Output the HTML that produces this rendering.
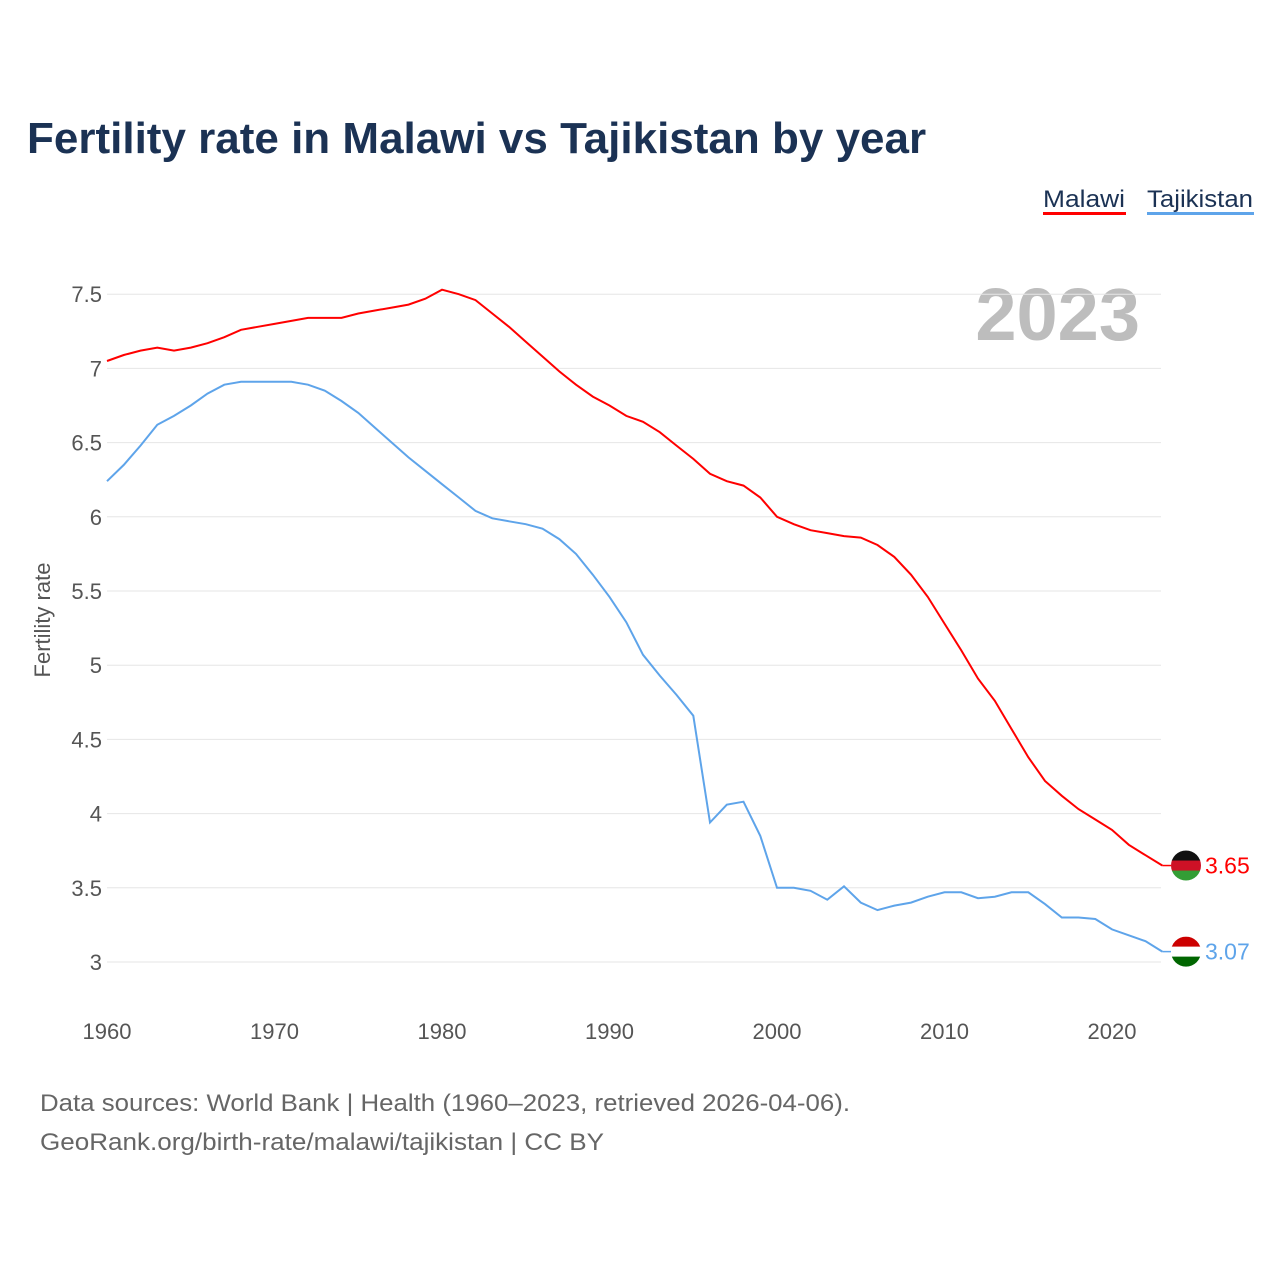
<!DOCTYPE html>
<html><head><meta charset="utf-8"><style>
body{margin:0;background:#fff;}
svg text{font-family:"Liberation Sans",sans-serif;}
</style></head><body>
<svg id="chart" width="1280" height="1280" viewBox="0 0 1280 1280" xmlns="http://www.w3.org/2000/svg">
<text x="27" y="153" font-size="44" font-weight="bold" fill="#1b3254">Fertility rate in Malawi vs Tajikistan by year</text>
<g>
<text x="1043" y="207" font-size="24" fill="#1b3254" textLength="82" lengthAdjust="spacingAndGlyphs">Malawi</text>
<rect x="1043" y="212" width="83" height="3" fill="#ff0000"/>
<text x="1147" y="207" font-size="24" fill="#1b3254" textLength="106" lengthAdjust="spacingAndGlyphs">Tajikistan</text>
<rect x="1147" y="212" width="107" height="3" fill="#5ea4ea"/>
</g>
<text x="1140" y="340" font-size="74" font-weight="bold" fill="#bdbdbd" text-anchor="end">2023</text>
<text transform="translate(50,620) rotate(-90)" font-size="22" fill="#555" text-anchor="middle">Fertility rate</text>
<g id="grid"></g><g id="xt"></g><g id="lines"></g><g id="ends"></g>
<text x="40" y="1111" font-size="24" fill="#666" textLength="810" lengthAdjust="spacingAndGlyphs">Data sources: World Bank | Health (1960–2023, retrieved 2026-04-06).</text>
<text x="40" y="1150" font-size="24" fill="#666" textLength="564" lengthAdjust="spacingAndGlyphs">GeoRank.org/birth-rate/malawi/tajikistan | CC BY</text>
</svg>
<script>
const years=[];for(let y=1960;y<=2023;y++)years.push(y);
const malawi=[7.05,7.09,7.12,7.14,7.12,7.14,7.17,7.21,7.26,7.28,7.30,7.32,7.34,7.34,7.34,7.37,7.39,7.41,7.43,7.47,7.53,7.50,7.46,7.37,7.28,7.18,7.08,6.98,6.89,6.81,6.75,6.68,6.64,6.57,6.48,6.39,6.29,6.24,6.21,6.13,6.00,5.95,5.91,5.89,5.87,5.86,5.81,5.73,5.61,5.46,5.28,5.10,4.91,4.76,4.57,4.38,4.22,4.12,4.03,3.96,3.89,3.79,3.72,3.65];
const tajikistan=[6.24,6.35,6.48,6.62,6.68,6.75,6.83,6.89,6.91,6.91,6.91,6.91,6.89,6.85,6.78,6.70,6.60,6.50,6.40,6.31,6.22,6.13,6.04,5.99,5.97,5.95,5.92,5.85,5.75,5.61,5.46,5.29,5.07,4.93,4.80,4.66,3.94,4.06,4.08,3.85,3.50,3.50,3.48,3.42,3.51,3.40,3.35,3.38,3.40,3.44,3.47,3.47,3.43,3.44,3.47,3.47,3.39,3.30,3.30,3.29,3.22,3.18,3.14,3.07];
const yTicks=[3,3.5,4,4.5,5,5.5,6,6.5,7,7.5];
const xTicks=[1960,1970,1980,1990,2000,2010,2020];
const X=y=>107+(y-1960)*16.75, Y=v=>962-(v-3)*148.4;
const NS="http://www.w3.org/2000/svg";
function mk(tag,attrs,parent,txt){const e=document.createElementNS(NS,tag);for(const k in attrs)e.setAttribute(k,attrs[k]);if(txt!==undefined)e.textContent=txt;parent.appendChild(e);return e;}
const grid=document.getElementById('grid');
yTicks.forEach(t=>{
 const l=mk('line',{x1:107,x2:1161,y1:Y(t),y2:Y(t),stroke:'#e6e6e6','stroke-width':1},grid);
 
 
 const tx=mk('text',{x:102,y:Y(t)+8,'font-size':22,fill:'#555','text-anchor':'end'},grid,String(t));
 
 
});
const xt=document.getElementById('xt');
xTicks.forEach(t=>{
 const tx=mk('text',{x:X(t),y:1039,'font-size':22,fill:'#555','text-anchor':'middle'},xt,String(t));
 
 
});
const lines=document.getElementById('lines');
function path(d){return d.map((v,i)=>(i?'L':'M')+X(years[i]).toFixed(1)+','+Y(v).toFixed(1)).join('');}
const pm=mk('path',{d:path(malawi),fill:'none',stroke:'#ff0000','stroke-width':2},lines);


const pt=mk('path',{d:path(tajikistan),fill:'none',stroke:'#5ea4ea','stroke-width':2},lines);


const ends=document.getElementById('ends');
function flag(v,colors,name,col){
 const cy=Y(v),cx=1186,r=15;
 const g=mk('g',{},ends);
 
 
 const id='c'+name;mk('clipPath',{id:id},g);
 mk('circle',{cx:cx,cy:cy,r:r},g.lastChild);
 colors.forEach((c,i)=>mk('rect',{x:cx-r,y:cy-r+i*2*r/3,width:2*r,height:2*r/3+0.5,fill:c,'clip-path':'url(#'+id+')'},g));
 mk('line',{x1:X(2023),x2:cx-r,y1:cy,y2:cy,stroke:col,'stroke-width':1.5},g);
 const t=mk('text',{x:1205,y:cy+8,'font-size':23,fill:col},ends,v.toFixed(2));
 
 
}
flag(malawi[malawi.length-1],['#111','#ce1126','#339e35'],'malawi','#ff0000');
flag(tajikistan[tajikistan.length-1],['#cc0000','#ffffff','#006600'],'tajikistan','#5ea4ea');
</script>
</body></html>
